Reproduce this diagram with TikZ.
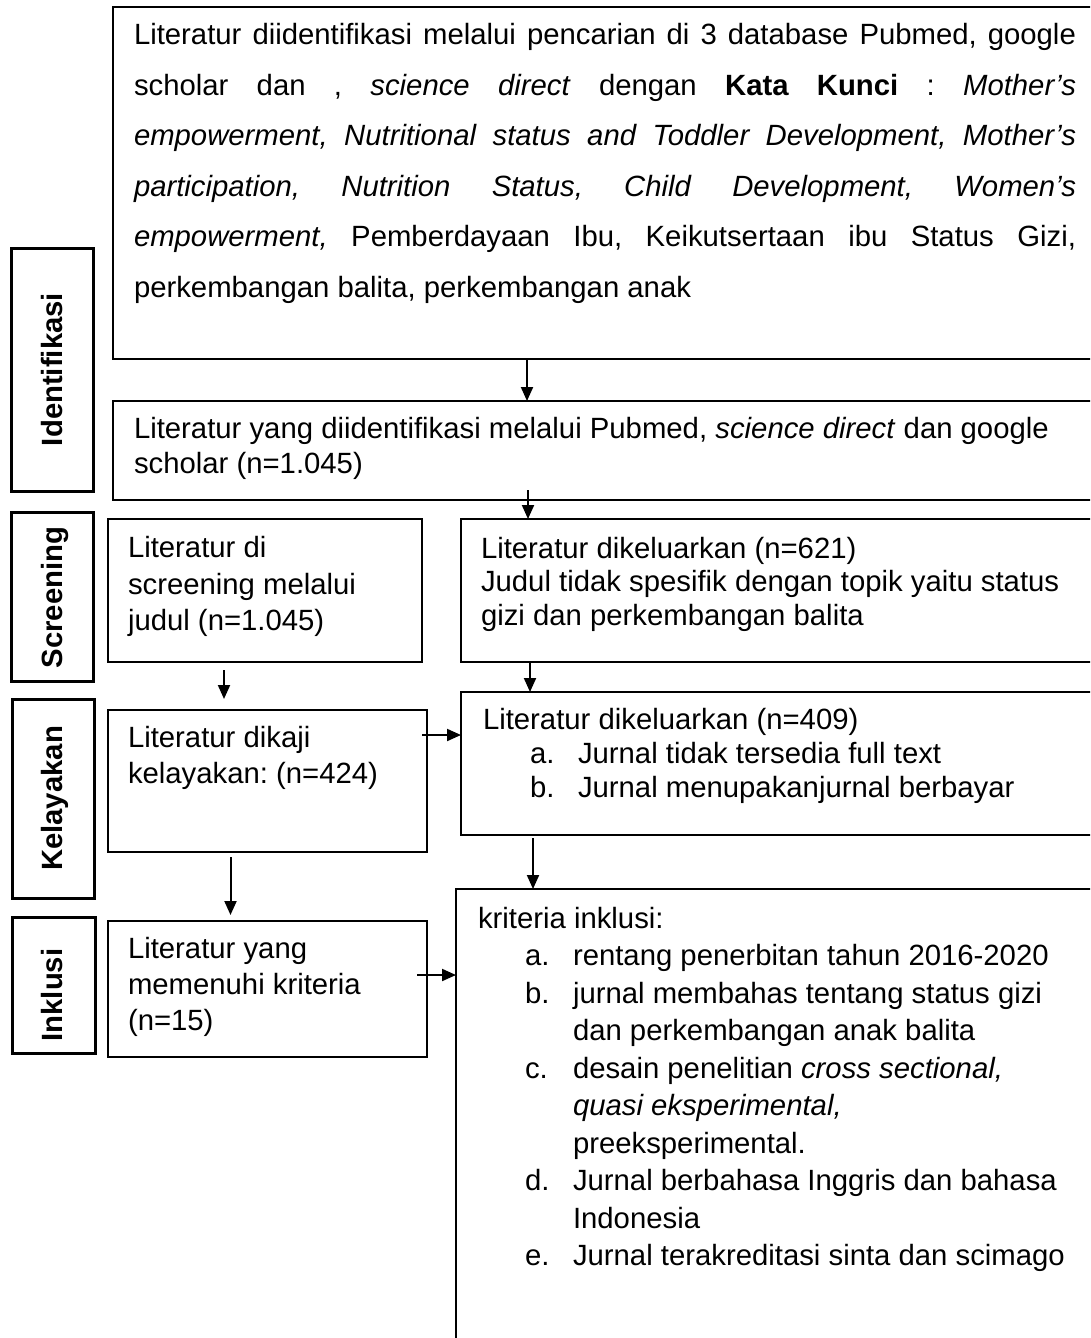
\documentclass[tikz,border=0pt]{standalone}
\usepackage{fontspec}
\setmainfont{Liberation Sans}
\usetikzlibrary{arrows.meta}
\frenchspacing
\newcommand{\bodyfont}{\fontsize{29.3}{35}\selectfont\frenchspacing}
\newcommand{\labfont}{\fontsize{29.3}{35}\selectfont\bfseries}
\newcommand{\jl}[1]{\makebox[942pt][s]{#1}}
\tikzset{
  box/.style={draw, line width=2pt, anchor=north west, inner sep=0pt, outer sep=0pt},
  lblbox/.style={draw, line width=3pt, anchor=north west, inner sep=0pt, outer sep=0pt},
  ln/.style={anchor=base west, inner sep=0pt, outer sep=0pt, font=\bodyfont},
  lt/.style={rotate=90, anchor=base, inner sep=0pt, outer sep=0pt, font=\labfont},
  arr/.style={line width=2pt, -{Triangle[length=14pt,width=12pt]}},
}
\begin{document}
\begin{tikzpicture}[x=1pt,y=-1pt]
\useasboundingbox (0,0) rectangle (1090,1338);
\fill[white] (0,0) rectangle (1090,1338);
\clip (0,0) rectangle (1090,1338);

% phase label boxes
\node[lblbox, minimum width=82pt, minimum height=243pt] (lblI) at (11,248) {};
\node[lblbox, minimum width=82pt, minimum height=169pt] (lblS) at (11,512) {};
\node[lblbox, minimum width=82pt, minimum height=199pt] (lblK) at (12,699) {};
\node[lblbox, minimum width=83pt, minimum height=136pt] (lblN) at (12,917) {};
\node[lt] (tI) at (62,369.5) {Identifikasi};
\node[lt] (tS) at (62,597.5) {Screening};
\node[lt] (tK) at (62,798.5) {Kelayakan};
\node[lt] (tN) at (62,995) {Inklusi};

% main boxes
\node[box, minimum width=1000pt, minimum height=352pt] (top) at (113,7) {};
\node[box, minimum width=1000pt, minimum height=99pt] (sec) at (113,401) {};
\node[box, minimum width=314pt, minimum height=143pt] (scr) at (108,519) {};
\node[box, minimum width=650pt, minimum height=143pt] (r621) at (460.5,519) {};
\node[box, minimum width=318.5pt, minimum height=142pt] (kel) at (108,710) {};
\node[box, minimum width=650pt, minimum height=143pt] (r409) at (461,692) {};
\node[box, minimum width=318.5pt, minimum height=136pt] (ink) at (108,921) {};
\node[box, minimum width=650pt, minimum height=520pt] (krit) at (456,889) {};

% top box text
\node[ln] (t1) at (134,45) {\jl{Literatur diidentifikasi melalui pencarian di 3 database Pubmed, google}};
\node[ln] (t2) at (134,95.4) {\jl{scholar dan , \textit{science direct} dengan \textbf{Kata Kunci} : \textit{Mother’s}}};
\node[ln] (t3) at (134,145.8) {\jl{\textit{empowerment, Nutritional status and Toddler Development, Mother’s}}};
\node[ln] (t4) at (134,196.2) {\jl{\textit{participation, Nutrition Status, Child Development, Women’s}}};
\node[ln] (t5) at (134,246.6) {\jl{\textit{empowerment,} Pemberdayaan Ibu, Keikutsertaan ibu Status Gizi,}};
\node[ln] (t6) at (134,297) {perkembangan balita, perkembangan anak};

% second box
\node[ln] (s1) at (134,438) {Literatur yang diidentifikasi melalui Pubmed, \textit{science direct} dan google};
\node[ln] (s2) at (134,473) {scholar (n=1.045)};

% screening
\node[ln] (c1) at (128,557) {Literatur di};
\node[ln] (c2) at (128,594) {screening melalui};
\node[ln] (c3) at (128,630) {judul (n=1.045)};
\node[ln] (e1) at (481,558) {Literatur dikeluarkan (n=621)};
\node[ln] (e2) at (481,591.5) {Judul tidak spesifik dengan topik yaitu status};
\node[ln] (e3) at (481,625) {gizi dan perkembangan balita};

% kelayakan
\node[ln] (k1) at (128,747) {Literatur dikaji};
\node[ln] (k2) at (128,783) {kelayakan: (n=424)};
\node[ln] (f1) at (483,729) {Literatur dikeluarkan (n=409)};
\node[ln] (fa) at (530,763) {a.};
\node[ln] (fat) at (578,763) {Jurnal tidak tersedia full text};
\node[ln] (fb) at (530,797) {b.};
\node[ln] (fbt) at (578,797) {Jurnal menupakanjurnal berbayar};

% inklusi
\node[ln] (i1) at (128,958) {Literatur yang};
\node[ln] (i2) at (128,994) {memenuhi kriteria};
\node[ln] (i3) at (128,1030) {(n=15)};
\node[ln] (g0) at (478,928) {kriteria inklusi:};
\node[ln] (ga) at (525,965.5) {a.};
\node[ln] (gat) at (573,965.5) {rentang penerbitan tahun 2016-2020};
\node[ln] (gb) at (525,1003) {b.};
\node[ln] (gbt) at (573,1003) {jurnal membahas tentang status gizi};
\node[ln] (gbu) at (573,1040.5) {dan perkembangan anak balita};
\node[ln] (gc) at (525,1078) {c.};
\node[ln] (gct) at (573,1078) {desain penelitian \textit{cross sectional,}};
\node[ln] (gcu) at (573,1115.5) {\textit{quasi eksperimental,}};
\node[ln] (gcv) at (573,1153) {preeksperimental.};
\node[ln] (gd) at (525,1190.5) {d.};
\node[ln] (gdt) at (573,1190.5) {Jurnal berbahasa Inggris dan bahasa};
\node[ln] (gdu) at (573,1228) {Indonesia};
\node[ln] (ge) at (525,1265.5) {e.};
\node[ln] (get) at (573,1265.5) {Jurnal terakreditasi sinta dan scimago};

% connector columns / rows
\coordinate (xA) at (527,0);
\coordinate (xB) at (528,0);
\coordinate (xC) at (224,0);
\coordinate (xD) at (530,0);
\coordinate (xE) at (533,0);
\coordinate (xF) at (230.5,0);
\coordinate (yA) at (0,735);
\coordinate (yB) at (0,975);

\draw[arr] (top.south -| xA) -- (sec.north -| xA);
\draw[arr, shorten <=-10pt] (sec.south -| xB) -- (r621.north -| xB);
\draw[arr, shorten <=8pt, shorten >=11pt] (scr.south -| xC) -- (kel.north -| xC);
\draw[arr] (r621.south -| xD) -- (r409.north -| xD);
\draw[arr, shorten <=-4.5pt] (kel.east |- yA) -- (r409.west |- yA);
\draw[arr, shorten <=3pt] (r409.south -| xE) -- (krit.north -| xE);
\draw[arr, shorten <=5pt, shorten >=6pt] (kel.south -| xF) -- (ink.north -| xF);
\draw[arr, shorten <=-9.5pt] (ink.east |- yB) -- (krit.west |- yB);
\end{tikzpicture}
\end{document}
